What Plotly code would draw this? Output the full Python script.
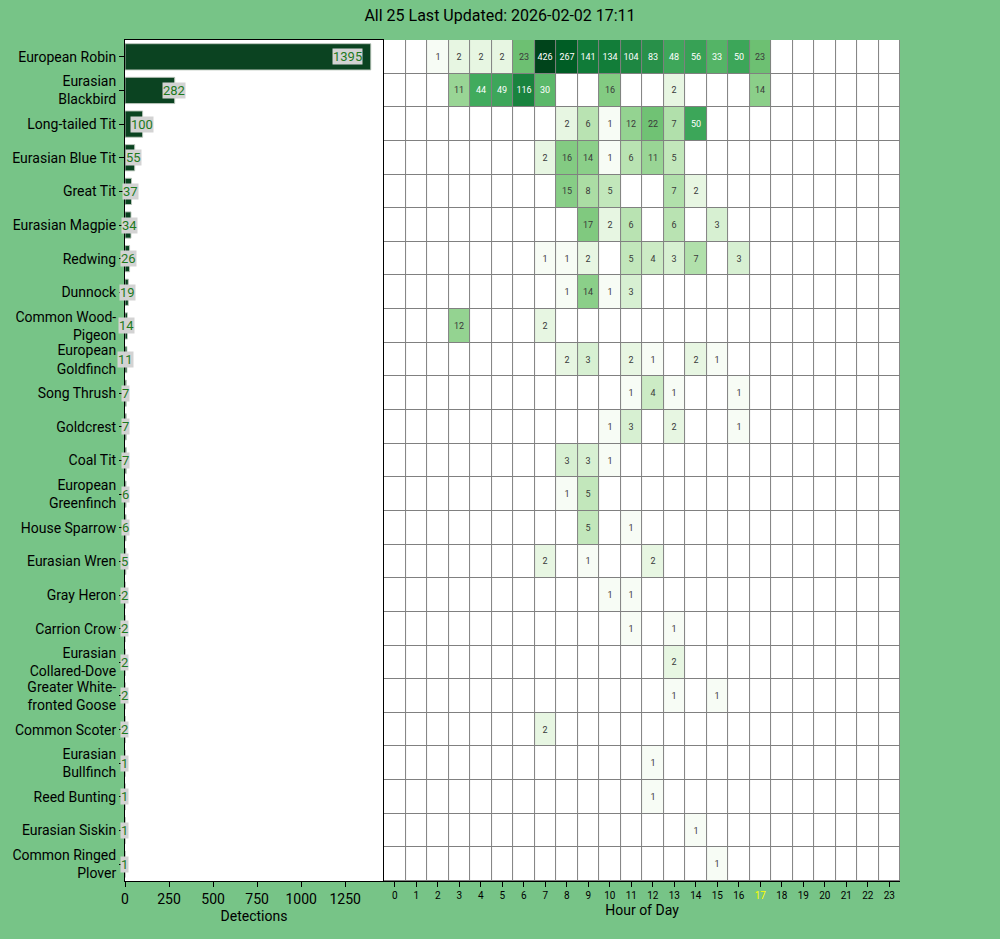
import math
import plotly.graph_objects as go
from plotly.subplots import make_subplots

title_text = "All 25 Last Updated: 2026-02-02 17:11"
current_hour = 17

species = [
    "European Robin", "Eurasian<br>Blackbird", "Long-tailed Tit", "Eurasian Blue Tit",
    "Great Tit", "Eurasian Magpie", "Redwing", "Dunnock", "Common Wood-<br>Pigeon",
    "European<br>Goldfinch", "Song Thrush", "Goldcrest", "Coal Tit", "European<br>Greenfinch",
    "House Sparrow", "Eurasian Wren", "Gray Heron", "Carrion Crow", "Eurasian<br>Collared-Dove",
    "Greater White-<br>fronted Goose", "Common Scoter", "Eurasian<br>Bullfinch", "Reed Bunting",
    "Eurasian Siskin", "Common Ringed<br>Plover",
]

totals = [1395, 282, 100, 55, 37, 34, 26, 19, 14, 11, 7, 7, 7, 6, 6, 5, 2, 2, 2, 2, 2, 1, 1, 1, 1]

hours = list(range(24))

#        0  1  2  3   4   5   6    7    8    9   10   11  12  13  14  15  16  17 18 19 20 21 22 23
counts = [
    [0, 0, 1, 2, 2, 2, 23, 426, 267, 141, 134, 104, 83, 48, 56, 33, 50, 23, 0, 0, 0, 0, 0, 0],
    [0, 0, 0, 11, 44, 49, 116, 30, 0, 0, 16, 0, 0, 2, 0, 0, 0, 14, 0, 0, 0, 0, 0, 0],
    [0, 0, 0, 0, 0, 0, 0, 0, 2, 6, 1, 12, 22, 7, 50, 0, 0, 0, 0, 0, 0, 0, 0, 0],
    [0, 0, 0, 0, 0, 0, 0, 2, 16, 14, 1, 6, 11, 5, 0, 0, 0, 0, 0, 0, 0, 0, 0, 0],
    [0, 0, 0, 0, 0, 0, 0, 0, 15, 8, 5, 0, 0, 7, 2, 0, 0, 0, 0, 0, 0, 0, 0, 0],
    [0, 0, 0, 0, 0, 0, 0, 0, 0, 17, 2, 6, 0, 6, 0, 3, 0, 0, 0, 0, 0, 0, 0, 0],
    [0, 0, 0, 0, 0, 0, 0, 1, 1, 2, 0, 5, 4, 3, 7, 0, 3, 0, 0, 0, 0, 0, 0, 0],
    [0, 0, 0, 0, 0, 0, 0, 0, 1, 14, 1, 3, 0, 0, 0, 0, 0, 0, 0, 0, 0, 0, 0, 0],
    [0, 0, 0, 12, 0, 0, 0, 2, 0, 0, 0, 0, 0, 0, 0, 0, 0, 0, 0, 0, 0, 0, 0, 0],
    [0, 0, 0, 0, 0, 0, 0, 0, 2, 3, 0, 2, 1, 0, 2, 1, 0, 0, 0, 0, 0, 0, 0, 0],
    [0, 0, 0, 0, 0, 0, 0, 0, 0, 0, 0, 1, 4, 1, 0, 0, 1, 0, 0, 0, 0, 0, 0, 0],
    [0, 0, 0, 0, 0, 0, 0, 0, 0, 0, 1, 3, 0, 2, 0, 0, 1, 0, 0, 0, 0, 0, 0, 0],
    [0, 0, 0, 0, 0, 0, 0, 0, 3, 3, 1, 0, 0, 0, 0, 0, 0, 0, 0, 0, 0, 0, 0, 0],
    [0, 0, 0, 0, 0, 0, 0, 0, 1, 5, 0, 0, 0, 0, 0, 0, 0, 0, 0, 0, 0, 0, 0, 0],
    [0, 0, 0, 0, 0, 0, 0, 0, 0, 5, 0, 1, 0, 0, 0, 0, 0, 0, 0, 0, 0, 0, 0, 0],
    [0, 0, 0, 0, 0, 0, 0, 2, 0, 1, 0, 0, 2, 0, 0, 0, 0, 0, 0, 0, 0, 0, 0, 0],
    [0, 0, 0, 0, 0, 0, 0, 0, 0, 0, 1, 1, 0, 0, 0, 0, 0, 0, 0, 0, 0, 0, 0, 0],
    [0, 0, 0, 0, 0, 0, 0, 0, 0, 0, 0, 1, 0, 1, 0, 0, 0, 0, 0, 0, 0, 0, 0, 0],
    [0, 0, 0, 0, 0, 0, 0, 0, 0, 0, 0, 0, 0, 2, 0, 0, 0, 0, 0, 0, 0, 0, 0, 0],
    [0, 0, 0, 0, 0, 0, 0, 0, 0, 0, 0, 0, 0, 1, 0, 1, 0, 0, 0, 0, 0, 0, 0, 0],
    [0, 0, 0, 0, 0, 0, 0, 2, 0, 0, 0, 0, 0, 0, 0, 0, 0, 0, 0, 0, 0, 0, 0, 0],
    [0, 0, 0, 0, 0, 0, 0, 0, 0, 0, 0, 0, 1, 0, 0, 0, 0, 0, 0, 0, 0, 0, 0, 0],
    [0, 0, 0, 0, 0, 0, 0, 0, 0, 0, 0, 0, 1, 0, 0, 0, 0, 0, 0, 0, 0, 0, 0, 0],
    [0, 0, 0, 0, 0, 0, 0, 0, 0, 0, 0, 0, 0, 0, 1, 0, 0, 0, 0, 0, 0, 0, 0, 0],
    [0, 0, 0, 0, 0, 0, 0, 0, 0, 0, 0, 0, 0, 0, 0, 1, 0, 0, 0, 0, 0, 0, 0, 0],
]

# ---------------- styling ----------------
BG = "#77c487"
FONT = "Roboto"
greens = [
    (0.0, "rgb(247,252,245)"), (0.125, "rgb(229,245,224)"), (0.25, "rgb(199,233,192)"),
    (0.375, "rgb(161,217,155)"), (0.5, "rgb(116,196,118)"), (0.625, "rgb(65,171,93)"),
    (0.75, "rgb(35,139,69)"), (0.875, "rgb(0,109,44)"), (1.0, "rgb(0,68,27)"),
]

max_count = max(max(r) for r in counts)
zmax = math.log(max_count)
zmin = -1.0
p0 = (0 - zmin) / (zmax - zmin)
colorscale = [[0.0, "white"], [p0 * 0.999, "white"]]
for s, c in greens:
    colorscale.append([p0 + (1 - p0) * s, c])

z = [[math.log(v) if v > 0 else zmin for v in row] for row in counts]
WHITE_TEXT_MIN = 25
txt_dark = [[str(v) if 0 < v < WHITE_TEXT_MIN else "" for v in row] for row in counts]
txt_light = [[str(v) if v >= WHITE_TEXT_MIN else "" for v in row] for row in counts]
rows = list(range(len(species)))
clear = [[0, "rgba(0,0,0,0)"], [1, "rgba(0,0,0,0)"]]

fig = make_subplots(rows=1, cols=2, shared_yaxes=False, horizontal_spacing=0.001,
                    column_widths=[0.333, 0.667])

fig.add_trace(go.Bar(
    x=totals, y=rows, orientation="h",
    marker=dict(color="#0b4321", line=dict(color="rgba(190,200,190,0.9)", width=1)),
    hoverinfo="x+y", showlegend=False,
), row=1, col=1)

fig.add_trace(go.Heatmap(
    z=z, x=hours, y=rows,
    colorscale=colorscale, zmin=zmin, zmax=zmax, showscale=False,
    xgap=1, ygap=1, hoverinfo="skip",
), row=1, col=2)

for t, col in ((txt_dark, "#3a3a3a"), (txt_light, "white")):
    fig.add_trace(go.Heatmap(
        z=z, x=hours, y=rows, text=t, texttemplate="%{text}",
        textfont=dict(size=9, family=FONT, color=col),
        colorscale=clear, showscale=False, hoverinfo="skip",
    ), row=1, col=2)

xmax = max(totals) * 1.05
for i, v in enumerate(totals):
    inside = v > 0.5 * max(totals)
    fig.add_annotation(
        x=v, y=i, xref="x", yref="y", text=str(v), showarrow=False,
        xanchor="right" if inside else "center", xshift=-8 if inside else -1,
        font=dict(size=13, color="#1e7a1e", family=FONT),
        bgcolor="#d3d3d3", borderpad=0,
    )

# gray background under the heatmap so that cell gaps appear as grid lines
fig.add_shape(type="rect", xref="x2 domain", yref="y2 domain", x0=0, x1=1, y0=0, y1=1,
              fillcolor="#808080", line=dict(width=0), layer="below")

tick_text = [f"<span style='color:yellow'>{h}</span>" if h == current_hour else str(h) for h in hours]

fig.update_layout(
    width=1000, height=939,
    paper_bgcolor=BG, plot_bgcolor="white",
    margin=dict(l=125, r=100, t=40, b=58),
    font=dict(family=FONT, color="black"),
    title=dict(text=title_text, x=0.5, xanchor="center", y=0.984, yanchor="middle",
               font=dict(size=16, family=FONT, color="black")),
    bargap=0.22,
)

fig.update_xaxes(domain=[0, 0.333], range=[0, xmax], tickvals=[0, 250, 500, 750, 1000, 1250],
                 showline=True, linecolor="black", linewidth=1, mirror=True,
                 ticks="outside", ticklen=5, tickcolor="black", showgrid=False, zeroline=False,
                 tickfont=dict(size=14), title=dict(text="Detections", font=dict(size=14), standoff=5),
                 row=1, col=1)
fig.update_yaxes(range=[len(species) - 0.5, -0.5], tickvals=rows, ticktext=species,
                 showline=True, linecolor="black", linewidth=1, mirror=True,
                 ticks="outside", ticklen=5, tickcolor="black", showgrid=False, zeroline=False,
                 tickfont=dict(size=14), row=1, col=1)

fig.update_xaxes(domain=[0.3342, 1.0], range=[-0.5, 23.5], tickvals=hours, ticktext=tick_text,
                 showline=True, linecolor="black", linewidth=1,
                 ticks="outside", ticklen=5, tickcolor="black", showgrid=False, zeroline=False,
                 tickfont=dict(size=10), title=dict(text="Hour of Day", font=dict(size=14), standoff=5),
                 row=1, col=2)
fig.update_yaxes(range=[len(species) - 0.5, -0.5], showticklabels=False,
                 showline=True, linecolor="black", linewidth=1,
                 ticks="", showgrid=False, zeroline=False, row=1, col=2)

fig.write_html("out.html", config={"displayModeBar": False},
               post_script="document.body.style.margin='0px';")
